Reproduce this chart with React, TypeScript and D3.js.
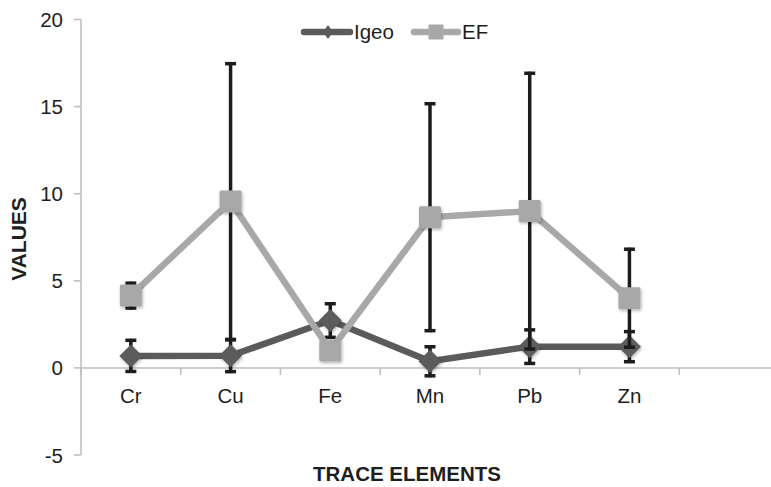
import React from "react";
import * as d3 from "d3";

// Trace element indices (mean ± error)
const categories = ["Cr", "Cu", "Fe", "Mn", "Pb", "Zn"];
const slots = [...categories, ""]; // trailing empty slot on the category axis
const igeoValues = [0.69, 0.7, 2.72, 0.38, 1.22, 1.22];
const igeoErrors = [0.98, 1.0, 1.05, 0.92, 1.05, 0.95];
const efValues = [4.15, 9.55, 1.0, 8.65, 9.0, 4.0];
const efErrors = [0.8, 8.0, 0.3, 6.6, 8.0, 2.9];
const yTicks = [-5, 0, 5, 10, 15, 20];

const W = 771;
const H = 487;
const FONT = "'Liberation Sans', Arial, Helvetica, sans-serif";
const IGEO_COLOR = "#5b5b5b";
const EF_COLOR = "#a8a8a8";
const AXIS_COLOR = "#bdbdbd";
const BAR_COLOR = "#1c1c1c";
const TEXT_COLOR = "#1e1e1e";

export default function App() {
  const x = d3.scaleBand<string>().domain(slots).range([81, 779]).padding(0);
  const y = d3.scaleLinear().domain([-5, 20]).range([455, 19.5]);
  const cx = (c: string) => (x(c) as number) + x.bandwidth() / 2;

  const line = d3
    .line<number>()
    .x((_, i) => cx(categories[i]))
    .y((v) => y(v));

  const diamond = (px: number, py: number, r: number) =>
    `M${px},${py - r}L${px + r},${py}L${px},${py + r}L${px - r},${py}Z`;

  const errorBars = (vals: number[], errs: number[], key: string) =>
    vals.map((v, i) => {
      const px = cx(categories[i]);
      const top = y(v + errs[i]);
      const bot = y(v - errs[i]);
      return (
        <g key={`${key}-${i}`}>
          <line x1={px} x2={px} y1={top} y2={bot} stroke={BAR_COLOR} strokeWidth={3.5} />
          <line x1={px - 5.5} x2={px + 5.5} y1={top + 1.5} y2={top + 1.5} stroke={BAR_COLOR} strokeWidth={3.5} />
          <line x1={px - 5.5} x2={px + 5.5} y1={bot - 1.5} y2={bot - 1.5} stroke={BAR_COLOR} strokeWidth={3.5} />
        </g>
      );
    });

  const edges = slots.map((s) => x(s) as number).concat([x.range()[1]]);

  return (
    <svg
      width={W}
      height={H}
      viewBox={`0 0 ${W} ${H}`}
      style={{ position: "absolute", left: 0, top: 0, display: "block", background: "#fff" }}
      fontFamily={FONT}
    >
      <defs>
        <filter id="mshadow" x="-50%" y="-50%" width="200%" height="200%">
          <feDropShadow dx="1" dy="1.5" stdDeviation="1.5" floodColor="#000" floodOpacity="0.3" />
        </filter>
      </defs>

      {/* Y axis */}
      <line x1={81} x2={81} y1={y(20)} y2={y(-5)} stroke={AXIS_COLOR} strokeWidth={1.5} />
      {yTicks.map((t) => (
        <g key={`yt-${t}`}>
          <line x1={74} x2={81} y1={y(t)} y2={y(t)} stroke={AXIS_COLOR} strokeWidth={1.5} />
          <text x={63} y={y(t) + 7.5} textAnchor="end" fontSize={20.5} fill={TEXT_COLOR}>
            {t}
          </text>
        </g>
      ))}

      {/* X axis at zero */}
      <line x1={81} x2={W} y1={y(0)} y2={y(0)} stroke={AXIS_COLOR} strokeWidth={1.5} />
      {edges.map((e, i) => (
        <line key={`xt-${i}`} x1={e} x2={e} y1={y(0)} y2={y(0) + 7} stroke={AXIS_COLOR} strokeWidth={1.5} />
      ))}
      {categories.map((c) => (
        <text key={`xl-${c}`} x={cx(c)} y={403} textAnchor="middle" fontSize={20.5} fill={TEXT_COLOR}>
          {c}
        </text>
      ))}

      {/* Axis titles */}
      <text
        transform={`translate(26,239) rotate(-90)`}
        textAnchor="middle"
        fontSize={21}
        fontWeight="bold"
        fill={TEXT_COLOR}
      >
        VALUES
      </text>
      <text x={407} y={481} textAnchor="middle" fontSize={20.5} fontWeight="bold" fill={TEXT_COLOR}>
        TRACE ELEMENTS
      </text>

      {/* Igeo series */}
      <path d={line(igeoValues) as string} fill="none" stroke={IGEO_COLOR} strokeWidth={6.5} strokeLinejoin="round" />
      {errorBars(igeoValues, igeoErrors, "ig")}
      <g filter="url(#mshadow)">
        {igeoValues.map((v, i) => (
          <path key={`igm-${i}`} d={diamond(cx(categories[i]), y(v), 11.5)} fill={IGEO_COLOR} />
        ))}
      </g>

      {/* EF series */}
      <path d={line(efValues) as string} fill="none" stroke={EF_COLOR} strokeWidth={6.5} strokeLinejoin="round" />
      {errorBars(efValues, efErrors, "ef")}
      <g filter="url(#mshadow)">
        {efValues.map((v, i) => (
          <rect
            key={`efm-${i}`}
            x={cx(categories[i]) - 11}
            y={y(v) - 11}
            width={22}
            height={22}
            rx={1.5}
            fill={EF_COLOR}
          />
        ))}
      </g>

      {/* Legend */}
      <g>
        <line x1={304} x2={350} y1={32} y2={32} stroke={IGEO_COLOR} strokeWidth={6.5} strokeLinecap="round" />
        <path d={`M328,25L333,32L328,39L323,32Z`} fill={IGEO_COLOR} />
        <text x={354} y={39} fontSize={20.5} fill={TEXT_COLOR}>
          Igeo
        </text>
        <line x1={414} x2={458} y1={32} y2={32} stroke={EF_COLOR} strokeWidth={6.5} strokeLinecap="round" />
        <rect x={428.5} y={24.5} width={15} height={15} fill={EF_COLOR} />
        <text x={462} y={39} fontSize={20.5} fill={TEXT_COLOR}>
          EF
        </text>
      </g>
    </svg>
  );
}
